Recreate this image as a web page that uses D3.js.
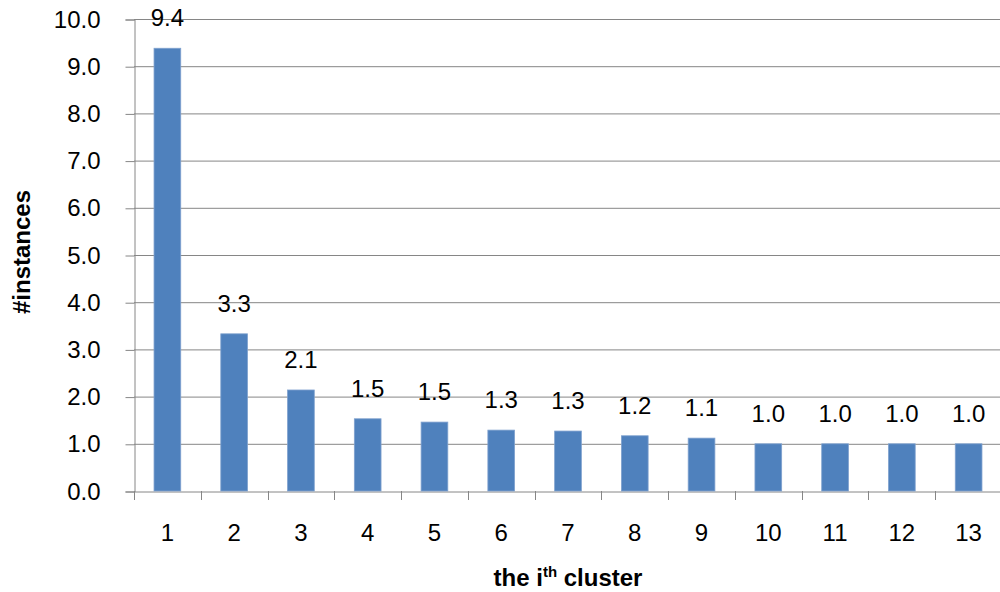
<!DOCTYPE html>
<html><head><meta charset="utf-8">
<script src="https://cdn.jsdelivr.net/npm/d3@7"></script>
<style>body{margin:0;background:#fff}svg{display:block}text{font-family:"Liberation Sans",Arial,sans-serif;fill:#000}</style>
</head><body>
<svg id="c" width="1000" height="592"></svg>
<script>
const categories = ["1","2","3","4","5","6","7","8","9","10","11","12","13"];
const values = [9.38, 3.33, 2.14, 1.53, 1.46, 1.29, 1.27, 1.17, 1.12, 1.0, 1.0, 1.0, 1.0];
const yTicks = [0,1,2,3,4,5,6,7,8,9,10];

const svg = d3.select("#c");
const L = 134, R = 1002, T = 19, B = 491;
const x = d3.scaleBand().domain(categories).range([L, R]).paddingInner(0.6).paddingOuter(0.3);
const xb = d3.scaleBand().domain(categories).range([L, R]);
const y = d3.scaleLinear().domain([0, 10]).range([B, T]);
const grey = "#868686";

// gridlines
svg.append("g").selectAll("line").data(yTicks.filter(d=>d>0)).join("line")
  .attr("x1", L).attr("x2", R).attr("y1", d=>y(d)+0.5).attr("y2", d=>y(d)+0.5)
  .attr("stroke", grey).attr("stroke-width", 1);

// y axis
const yAxis = d3.axisLeft(y).tickValues(yTicks).tickFormat(d3.format(".1f")).tickSize(9).tickPadding(25);
const gy = svg.append("g").attr("transform", `translate(${L+0.5},0.5)`).call(yAxis);
gy.select(".domain").attr("stroke", grey);
gy.selectAll(".tick line").attr("stroke", grey);
gy.selectAll(".tick text").attr("font-size", 24).attr("font-family", "Liberation Sans").attr("fill", "#000");

// x axis
const xAxis = d3.axisBottom(xb).tickSize(0).tickPadding(0).tickSizeOuter(0);
const gx = svg.append("g").attr("transform", `translate(0,${B+0.5})`).call(xAxis);
gx.select(".domain").attr("stroke", grey);
gx.selectAll(".tick text").attr("font-size", 24).attr("font-family", "Liberation Sans").attr("fill", "#000").attr("dy", "2.05em");
// x tick marks at band boundaries
svg.append("g").selectAll("line").data(categories.concat(["end"])).join("line")
  .attr("x1", (d,i)=> Math.round(L + i*xb.step())+0.5).attr("x2", (d,i)=> Math.round(L + i*xb.step())+0.5)
  .attr("y1", B).attr("y2", B+9).attr("stroke", grey);

// bars
svg.append("g").selectAll("rect").data(values).join("rect")
  .attr("x", (d,i)=>x(categories[i])).attr("width", x.bandwidth())
  .attr("y", d=>y(d)).attr("height", d=>B - y(d))
  .attr("fill", "#4F81BD").attr("stroke", "#7FA1CE").attr("stroke-width", 0.8);

// data labels
svg.append("g").selectAll("text").data(values).join("text")
  .attr("x", (d,i)=>x(categories[i]) + x.bandwidth()/2).attr("y", d=>y(d) - 22)
  .attr("text-anchor", "middle").attr("font-size", 24).text(d=>d3.format(".1f")(d));

// axis titles
const xt = svg.append("text").attr("x", (L+R)/2).attr("y", 586).attr("text-anchor", "middle")
  .attr("font-size", 24).attr("font-weight", "bold");
xt.append("tspan").text("the i");
xt.append("tspan").attr("font-size", 15).attr("dy", -9).text("th");
xt.append("tspan").attr("dy", 9).text(" cluster");

svg.append("text").attr("transform", `translate(30,${(T+B)/2 - 3}) rotate(-90)`)
  .attr("text-anchor", "middle").attr("font-size", 24).attr("font-weight", "bold").text("#instances");
</script>
</body></html>
